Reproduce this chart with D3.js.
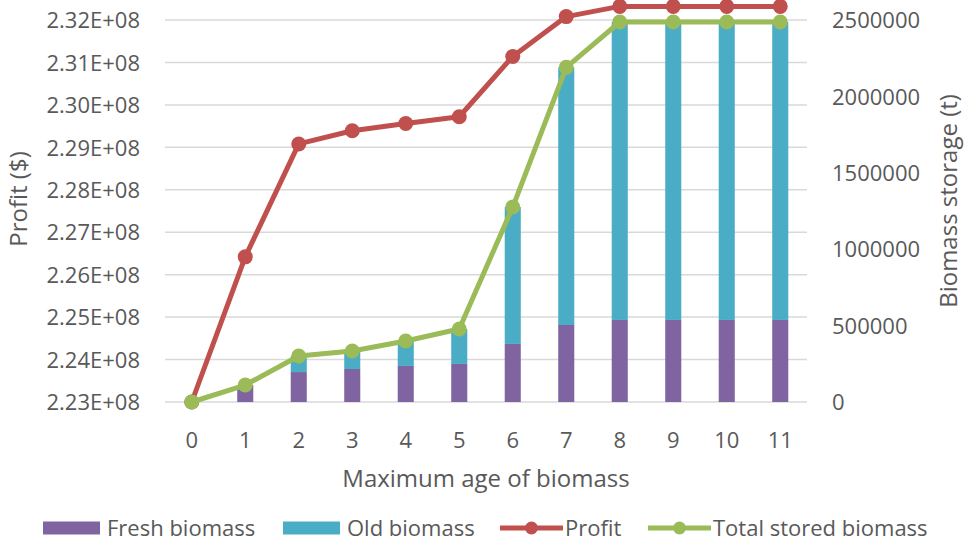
<!DOCTYPE html>
<html>
<head>
<meta charset="utf-8">
<script src="https://cdn.jsdelivr.net/npm/d3@7"></script>
<style>
  body { margin: 0; background: #fff; }
  text { font-family: "Open Sans", sans-serif; fill: #595959; }
</style>
</head>
<body>
<div id="chart"></div>
<script>
// categories and series
const ages = [0, 1, 2, 3, 4, 5, 6, 7, 8, 9, 10, 11]
const freshBiomass = [0, 111000, 196000, 216000, 236000, 249000, 380000, 504000, 537000, 537000, 537000, 537000]
const oldBiomass = [0, 0, 105000, 118000, 163000, 229000, 896000, 1686000, 1950000, 1950000, 1950000, 1950000]
const profit = [2.2300e8, 2.2642e8, 2.2908e8, 2.2939e8, 2.2956e8, 2.2972e8, 2.3114e8, 2.3208e8, 2.3232e8, 2.3232e8, 2.3232e8, 2.3232e8]
const totalStored = [0, 111000, 301000, 334000, 399000, 478000, 1276000, 2190000, 2487000, 2487000, 2487000, 2487000]
const leftTicks = [2.23e8, 2.24e8, 2.25e8, 2.26e8, 2.27e8, 2.28e8, 2.29e8, 2.30e8, 2.31e8, 2.32e8]
const rightTicks = [0, 500000, 1000000, 1500000, 2000000, 2500000]

const config = {
    width: 966,
    height: 544,
    plotLeft: 165, plotRight: 807, plotTop: 20, plotBottom: 402,
    tickFont: '22px',
    titleFont: '24px',
    colors: { fresh: "#8064a2", old: "#4bacc6", profit: "#c0504d", total: "#9bbb59" }
}
const { width, height, plotLeft, plotRight, plotTop, plotBottom, tickFont, titleFont, colors } = config

const svg = d3.select('#chart').append('svg')
    .attr('width', width)
    .attr('height', height)

const x = d3.scaleBand().domain(ages).range([plotLeft, plotRight]).paddingInner(0.7).paddingOuter(0.35)
const yL = d3.scaleLinear().domain([2.23e8, 2.32e8]).range([plotBottom, plotTop])
const yR = d3.scaleLinear().domain([0, 2500000]).range([plotBottom, plotTop])
const cx = d => x(d) + x.bandwidth() / 2

// gridlines
svg.append('g').selectAll('line')
    .data(leftTicks)
    .enter().append('line')
    .attr('x1', plotLeft).attr('x2', plotRight)
    .attr('y1', d => yL(d)).attr('y2', d => yL(d))
    .style('stroke', '#d9d9d9').style('stroke-width', 1.5)

// left axis
const leftAxis = svg.append('g')
    .attr('transform', 'translate(' + (plotLeft - 22) + ',0)')
    .call(d3.axisLeft(yL).tickValues(leftTicks).tickSize(0)
        .tickFormat(d => (d / 1e8).toFixed(2) + 'E+08'))
leftAxis.select('.domain').remove()
leftAxis.selectAll('text').style('font-size', tickFont).style('fill', '#595959').attr('dy', '0.35em')

// right axis
const rightAxis = svg.append('g')
    .attr('transform', 'translate(' + (plotRight + 22) + ',0)')
    .call(d3.axisRight(yR).tickValues(rightTicks).tickSize(0).tickFormat(d3.format('d')))
rightAxis.select('.domain').remove()
rightAxis.selectAll('text').style('font-size', tickFont).style('fill', '#595959').attr('dy', '0.35em')

// bottom axis
const bottomAxis = svg.append('g')
    .attr('transform', 'translate(0,' + plotBottom + ')')
    .call(d3.axisBottom(x).tickSize(0).tickPadding(0))
bottomAxis.select('.domain').remove()
bottomAxis.selectAll('text').style('font-size', tickFont).style('fill', '#595959')
    .attr('y', 38).attr('dy', '0.35em')

// stacked bars
const stackData = ages.map((a, i) => ({ age: a, fresh: freshBiomass[i], old: oldBiomass[i] }))
const stacked = d3.stack().keys(['fresh', 'old'])(stackData)
svg.append('g').selectAll('g')
    .data(stacked)
    .enter().append('g')
    .style('fill', d => colors[d.key])
    .selectAll('rect')
    .data(d => d)
    .enter().append('rect')
    .attr('x', d => x(d.data.age))
    .attr('width', x.bandwidth())
    .attr('y', d => yR(d[1]))
    .attr('height', d => yR(d[0]) - yR(d[1]))

// lines with markers
function drawLine(values, scale, color) {
    const line = d3.line().x((d, i) => cx(ages[i])).y(d => scale(d))
    svg.append('path')
        .datum(values)
        .attr('d', line)
        .style('fill', 'none')
        .style('stroke', color)
        .style('stroke-width', 5)
        .style('stroke-linejoin', 'round')
    svg.append('g').selectAll('circle')
        .data(values)
        .enter().append('circle')
        .attr('cx', (d, i) => cx(ages[i]))
        .attr('cy', d => scale(d))
        .attr('r', 7.5)
        .style('fill', color)
}
drawLine(profit, yL, colors.profit)
drawLine(totalStored, yR, colors.total)

// axis titles
svg.append('text')
    .attr('transform', 'translate(19,199) rotate(-90)')
    .attr('text-anchor', 'middle')
    .attr('dy', '0.35em')
    .style('font-size', titleFont)
    .text('Profit ($)')
svg.append('text')
    .attr('transform', 'translate(949,201) rotate(-90)')
    .attr('text-anchor', 'middle')
    .attr('dy', '0.35em')
    .style('font-size', titleFont)
    .text('Biomass storage (t)')
svg.append('text')
    .attr('x', (plotLeft + plotRight) / 2)
    .attr('y', 479)
    .attr('dy', '0.35em')
    .attr('text-anchor', 'middle')
    .style('font-size', titleFont)
    .text('Maximum age of biomass')

// legend
const legend = [
    { label: 'Fresh biomass', color: colors.fresh, type: 'bar', x: 43 },
    { label: 'Old biomass', color: colors.old, type: 'bar', x: 283 },
    { label: 'Profit', color: colors.profit, type: 'line', x: 500 },
    { label: 'Total stored biomass', color: colors.total, type: 'line', x: 648 }
]
const ly = 528
const lg = svg.append('g').selectAll('g')
    .data(legend)
    .enter().append('g')
    .attr('transform', d => 'translate(' + d.x + ',' + ly + ')')
lg.filter(d => d.type === 'bar').append('rect')
    .attr('x', 0).attr('y', -6.5).attr('width', 57).attr('height', 13)
    .style('fill', d => d.color)
lg.filter(d => d.type === 'line').append('line')
    .attr('x1', 0).attr('x2', 63).attr('y1', 0).attr('y2', 0)
    .style('stroke', d => d.color).style('stroke-width', 5)
lg.filter(d => d.type === 'line').append('circle')
    .attr('cx', 31.5).attr('cy', 0).attr('r', 6.5)
    .style('fill', d => d.color)
lg.append('text')
    .attr('x', d => d.type === 'bar' ? 64 : 65)
    .attr('y', 0)
    .attr('dy', '0.35em')
    .style('font-size', '22px')
    .text(d => d.label)
</script>
</body>
</html>
